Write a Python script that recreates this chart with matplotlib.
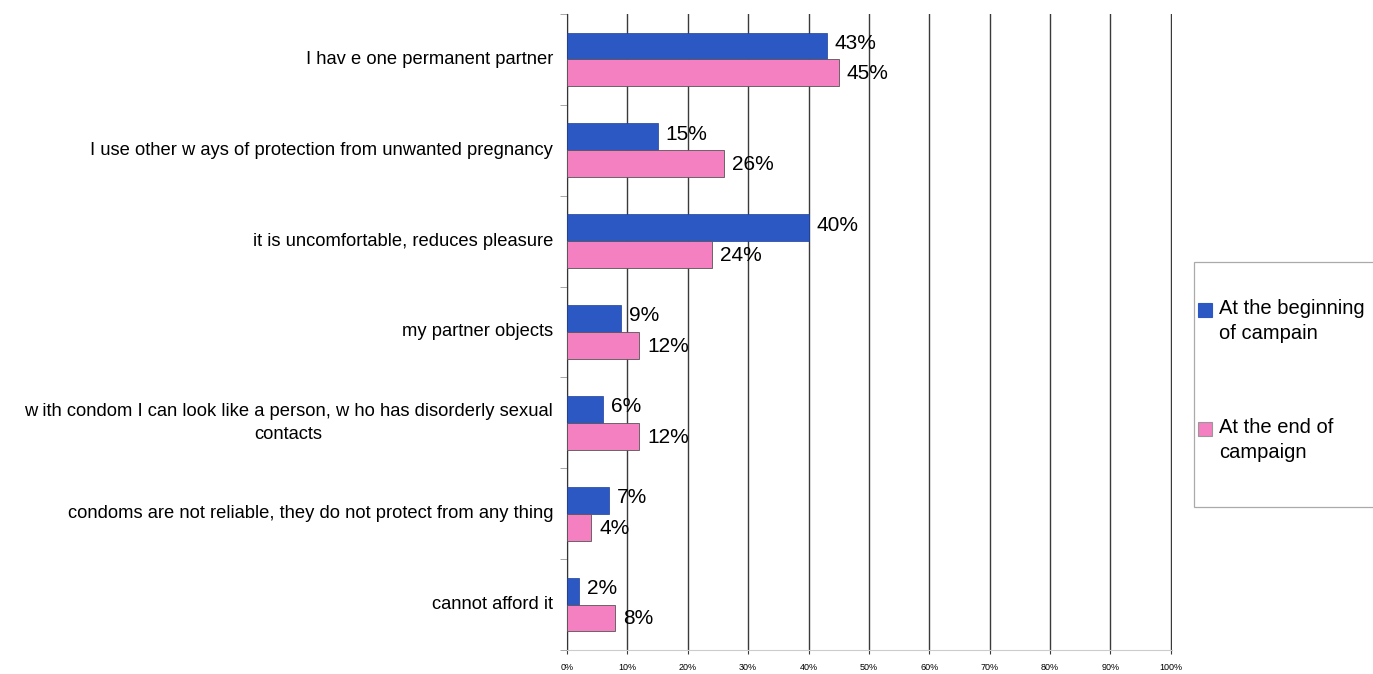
import numpy as np
import matplotlib.pyplot as plt
import matplotlib.transforms as mtransforms
from matplotlib.patches import Rectangle

categories = ['I hav e one permanent partner',
              'I use other w ays of protection from unwanted pregnancy',
              'it is uncomfortable, reduces pleasure',
              'my partner objects',
              'w ith condom I can look like a person, w ho has disorderly sexual\ncontacts',
              'condoms are not reliable, they do not protect from any thing',
              'cannot afford it']
beginning = [43, 15, 40, 9, 6, 7, 2]
end = [45, 26, 24, 12, 12, 4, 8]
series_names = ['At the beginning\nof campain', 'At the end of\ncampaign']
xticks = list(range(0, 101, 10))

blue = '#2c58c4'
pink = '#f47fc1'
plt.rcParams['font.family'] = ['Liberation Sans', 'DejaVu Sans']

fig = plt.figure(figsize=(13.73, 6.74), dpi=100)
W, H = 1373, 674
ax = fig.add_axes([567/W, 1-650/H, (1172-567)/W, (650-14)/H])

y = np.arange(len(categories))
h = 0.295
ax.barh(y - h/2, beginning, height=h, color=blue, edgecolor='#1f3f99', lw=0.5, zorder=3)
ax.barh(y + h/2, end, height=h, color=pink, edgecolor='#555555', lw=0.6, zorder=3)

for i in range(len(categories)):
    ax.text(beginning[i] + 1.3, y[i] - h/2 - 0.03, '%d%%' % beginning[i], va='center', ha='left', fontsize=15, zorder=4)
    ax.text(end[i] + 1.3, y[i] + h/2 + 0.01, '%d%%' % end[i], va='center', ha='left', fontsize=15, zorder=4)

ax.set_xlim(0, 100.2)
ax.set_ylim(len(categories) - 0.5, -0.5)
ax.set_xticks(xticks)
ax.set_xticklabels(['%d%%' % v for v in xticks], fontsize=6.5)
ax.tick_params(axis='x', length=3, color='#3a3a3a', pad=6)

# category labels as text so the wrapped one gets the wider line spacing
ax.set_yticks([])
lab_tr = mtransforms.offset_copy(ax.get_yaxis_transform(), fig=fig, x=-14, y=0, units='dots')
for yi, cat in zip(y, categories):
    ax.text(0, yi, cat, transform=lab_tr, ha='right', va='center', fontsize=13.2,
            multialignment='center', linespacing=1.5)
ax.set_yticks(np.arange(len(categories) + 1) - 0.5, minor=True)
ax.tick_params(axis='y', which='minor', length=5, color='#999999')
ax.grid(axis='x', color='#3a3a3a', lw=1.0, zorder=0)
for s in ['top', 'right']:
    ax.spines[s].set_visible(False)
ax.spines['left'].set_color('#333333')
ax.spines['bottom'].set_color('#cccccc')

# legend box drawn by hand so the keys sit on the first text line
fig.patches.append(Rectangle((1194/W, 1-507/H), (W-1194)/W + 0.01, (507-262)/H, transform=fig.transFigure,
                             facecolor='white', edgecolor='#aaaaaa', lw=0.9))
keys = [(blue, '#2c58c4', 303), (pink, '#999999', 422)]
for (fc, ec, top), name in zip(keys, series_names):
    fig.patches.append(Rectangle((1198/W, 1-(top+14)/H), 14/W, 14/H, transform=fig.transFigure,
                                 facecolor=fc, edgecolor=ec, lw=0.8))
    fig.text(1219/W, 1-(top-4)/H, name, fontsize=14.5, va='top', ha='left', linespacing=1.4)

fig.savefig('out.png', dpi=100)
